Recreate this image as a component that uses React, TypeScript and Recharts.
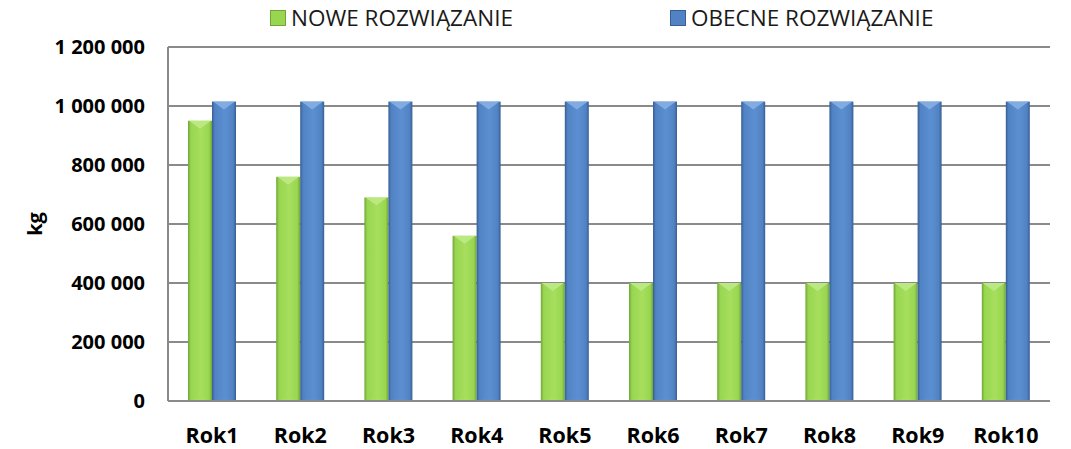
import React from 'react';
import { BarChart, Bar, XAxis, YAxis, CartesianGrid } from 'recharts';

const years = ['Rok1', 'Rok2', 'Rok3', 'Rok4', 'Rok5', 'Rok6', 'Rok7', 'Rok8', 'Rok9', 'Rok10'];
const noweValues = [950000, 760000, 690000, 560000, 400000, 400000, 400000, 400000, 400000, 400000];
const obecneValues = [1015000, 1015000, 1015000, 1015000, 1015000, 1015000, 1015000, 1015000, 1015000, 1015000];
const yTicks = [0, 200000, 400000, 600000, 800000, 1000000, 1200000];

const data = years.map((name, i) => ({ name, nowe: noweValues[i], obecne: obecneValues[i] }));

const FONT = '"Open Sans", "Liberation Sans", sans-serif';

const PALETTES: Record<string, { edge: string; mid: string; light: string; top: string }> = {
  green: { edge: '#72a535', mid: '#98d651', light: '#a6df5d', top: '#c0ea88' },
  blue: { edge: '#375f93', mid: '#5183c4', light: '#5c8fd1', top: '#8ab2e3' },
};

const formatTick = (v: number) => String(v).replace(/\B(?=(\d{3})+(?!\d))/g, ' ');

const makeShape = (key: string) => (props: any) => {
  const { x, y, width, height } = props;
  if (!height || height <= 0) return <g />;
  const p = PALETTES[key];
  const gid = `grad-${key}`;
  const tri = Math.min(width * 0.33, height);
  return (
    <g>
      <defs>
        <linearGradient id={gid} x1="0" y1="0" x2="1" y2="0">
          <stop offset="0%" stopColor={p.edge} />
          <stop offset="12%" stopColor={p.mid} />
          <stop offset="55%" stopColor={p.light} />
          <stop offset="88%" stopColor={p.mid} />
          <stop offset="100%" stopColor={p.edge} />
        </linearGradient>
      </defs>
      <rect x={x} y={y} width={width} height={height} fill={`url(#${gid})`} />
      <polygon
        points={`${x + 1},${y} ${x + width - 1},${y} ${x + width / 2},${y + tri}`}
        fill={p.top}
        opacity={0.85}
      />
      <polygon
        points={`${x + 2},${y + height} ${x + width - 2},${y + height} ${x + width / 2},${y + height - tri * 0.6}`}
        fill={p.light}
        opacity={0.6}
      />
    </g>
  );
};

const LegendItem = ({ color, edge, label, left }: { color: string; edge: string; label: string; left: number }) => (
  <div style={{ position: 'absolute', left, top: 2, display: 'flex', alignItems: 'center', whiteSpace: 'nowrap' }}>
    <span
      style={{
        display: 'inline-block',
        width: 14,
        height: 14,
        background: color,
        border: `1px solid ${edge}`,
        marginRight: 5,
      }}
    />
    <span style={{ fontFamily: FONT, fontSize: 22.5, color: '#1a1a1a' }}>{label}</span>
  </div>
);

export default function App() {
  return (
    <div style={{ position: 'absolute', left: 0, top: 0, width: 1071, height: 449, background: '#fff' }}>
      <LegendItem color="#98d651" edge="#72a535" label="NOWE ROZWIĄZANIE" left={270} />
      <LegendItem color="#5183c4" edge="#375f93" label="OBECNE ROZWIĄZANIE" left={670} />
      <BarChart
        width={1071}
        height={449}
        data={data}
        margin={{ top: 47, right: 21, bottom: 8, left: 0 }}
        barGap={0}
        barSize={24}
      >
        <CartesianGrid vertical={false} stroke="#8a8a8a" strokeWidth={2} />
        <XAxis
          dataKey="name"
          height={40}
          axisLine={{ stroke: '#8a8a8a', strokeWidth: 2 }}
          tickLine={false}
          tickSize={0}
          tickMargin={27}
          tick={{ fill: '#000', fontSize: 21.5, fontWeight: 700, fontFamily: FONT }}
        />
        <YAxis
          width={168}
          domain={[0, 1200000]}
          ticks={yTicks}
          tickFormatter={formatTick}
          axisLine={{ stroke: '#8a8a8a', strokeWidth: 2 }}
          tickLine={false}
          tickSize={0}
          tickMargin={23}
          tick={{ fill: '#000', fontSize: 20, fontWeight: 700, fontFamily: FONT }}
          label={{
            value: 'kg',
            angle: -90,
            position: 'insideLeft',
            offset: 35,
            style: { fill: '#000', fontSize: 20, fontWeight: 700, fontFamily: FONT, textAnchor: 'middle' },
          }}
        />
        <Bar dataKey="nowe" name="NOWE ROZWIĄZANIE" shape={makeShape('green')} isAnimationActive={false} />
        <Bar dataKey="obecne" name="OBECNE ROZWIĄZANIE" shape={makeShape('blue')} isAnimationActive={false} />
      </BarChart>
    </div>
  );
}
